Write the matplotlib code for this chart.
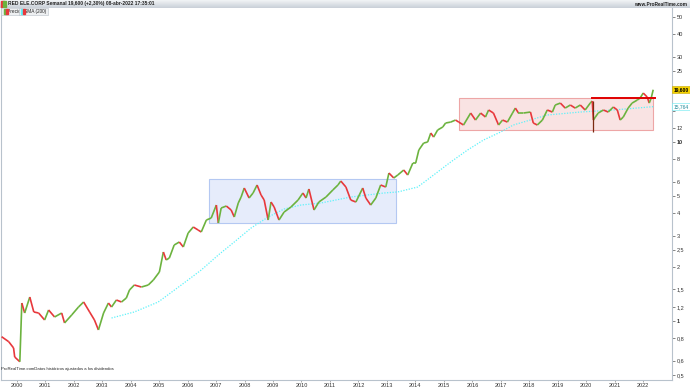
import numpy as np
import matplotlib
matplotlib.use("Agg")
import matplotlib.pyplot as plt
from matplotlib.collections import LineCollection
from matplotlib.patches import Rectangle
from matplotlib.ticker import FixedLocator, NullLocator

plt.rcParams["font.family"] = ["Liberation Sans", "DejaVu Sans"]

# ---- data (decimal year, price) ----
dates = [1999.47, 1999.72, 1999.89, 1999.93, 2000.11, 2000.18, 2000.28, 2000.46, 2000.60, 2000.77,
         2000.98, 2001.12, 2001.33, 2001.58, 2001.68, 2001.93, 2002.17, 2002.35, 2002.56, 2002.73,
         2002.87, 2003.05, 2003.22, 2003.33, 2003.50, 2003.68, 2003.85, 2003.96, 2004.13, 2004.38,
         2004.62, 2004.80, 2005.01, 2005.15, 2005.25, 2005.36, 2005.53, 2005.71, 2005.85, 2006.02,
         2006.20, 2006.37, 2006.48, 2006.66, 2006.83, 2007.01, 2007.08, 2007.18, 2007.36, 2007.53,
         2007.64, 2007.78, 2007.88, 2007.99, 2008.16, 2008.30, 2008.44, 2008.58, 2008.69, 2008.83,
         2008.93, 2009.04, 2009.21, 2009.39, 2009.63, 2009.88, 2010.05, 2010.16, 2010.26, 2010.44,
         2010.61, 2010.86, 2011.10, 2011.28, 2011.38, 2011.56, 2011.73, 2011.91, 2012.15, 2012.26,
         2012.43, 2012.61, 2012.78, 2012.96, 2013.07, 2013.24, 2013.38, 2013.59, 2013.73, 2013.91,
         2014.01, 2014.12, 2014.29, 2014.43, 2014.54, 2014.64, 2014.78, 2014.96, 2015.06, 2015.24,
         2015.41, 2015.52, 2015.69, 2015.94, 2016.11, 2016.29, 2016.46, 2016.57, 2016.74, 2016.92,
         2017.06, 2017.23, 2017.41, 2017.51, 2017.62, 2017.79, 2018.04, 2018.14, 2018.28, 2018.46,
         2018.63, 2018.81, 2018.91, 2019.09, 2019.26, 2019.44, 2019.61, 2019.79, 2019.96, 2020.14,
         2020.21, 2020.25, 2020.32, 2020.42, 2020.60, 2020.77, 2020.95, 2021.09, 2021.19, 2021.30,
         2021.47, 2021.61, 2021.79, 2021.89, 2022.00, 2022.14, 2022.21, 2022.28, 2022.35]
closes = [0.817, 0.766, 0.707, 0.629, 0.592, 1.26, 1.108, 1.361, 1.123, 1.108,
          1.013, 1.152, 1.053, 1.108, 0.975, 1.080, 1.197, 1.277, 1.123, 1.013,
          0.891, 1.108, 1.26, 1.197, 1.310, 1.277, 1.344, 1.490, 1.589, 1.548,
          1.589, 1.695, 1.878, 2.429, 2.192, 2.249, 2.658, 2.763, 2.591, 3.101,
          3.351, 3.224, 3.142, 3.666, 3.762, 4.446, 3.527, 4.279, 4.390, 4.170,
          3.811, 4.563, 4.928, 5.534, 4.866, 5.190, 5.752, 5.058, 4.743, 3.666,
          4.622, 4.334, 3.666, 4.063, 4.334, 4.743, 5.190, 4.866, 5.464, 4.170,
          4.622, 4.928, 5.394, 5.752, 6.055, 5.605, 4.743, 4.622, 5.534, 4.866,
          4.446, 4.866, 5.752, 5.605, 6.711, 6.295, 6.542, 6.976, 6.542, 7.633,
          7.633, 9.022, 9.872, 10.0, 11.23, 10.66, 11.67, 12.13, 12.77, 12.93,
          13.27, 12.93, 12.45, 14.52, 13.27, 14.52, 13.80, 15.10, 14.52, 12.45,
          13.27, 12.93, 14.52, 15.48, 14.52, 14.52, 14.71, 12.77, 12.45, 13.27,
          15.10, 14.71, 16.10, 16.51, 15.48, 16.10, 15.48, 16.10, 15.10, 16.51,
          16.95, 13.27, 13.80, 14.52, 15.10, 14.71, 15.69, 15.10, 13.27, 13.80,
          15.48, 16.51, 17.16, 17.62, 18.78, 17.84, 16.51, 17.62, 19.60]

sma_dates = [2003.33, 2004.13, 2004.97, 2005.78, 2006.48, 2007.08, 2007.64, 2008.23, 2008.83,
             2009.39, 2009.98, 2010.68, 2011.73, 2012.89, 2013.38, 2014.08, 2014.64, 2015.24,
             2015.83, 2016.39, 2016.99, 2017.44, 2018.63, 2019.79, 2020.95, 2022.35]
sma_values = [1.039, 1.123, 1.277, 1.589, 1.927, 2.338, 2.763, 3.308, 3.811,
              4.224, 4.446, 4.563, 4.928, 5.190, 5.26, 5.605, 6.542, 7.732,
              9.022, 10.26, 11.37, 12.45, 14.16, 14.71, 15.10, 15.764]

crash_wick = (2020.22, 16.95, 11.4)

blue_box = (2006.74, 2013.33, 3.51, 6.19)
red_box = (2015.52, 2022.35, 11.67, 17.54)
resist_line = (2020.21, 2022.42, 17.54)

ytick_values = [0.5, 0.6, 0.8, 1, 1.2, 1.5, 2, 2.5, 3, 4, 5, 6, 8, 10, 12, 15, 20, 25, 30, 40, 50]
ytick_labels = ["0,5", "0,6", "0,8", "1", "1,2", "1,5", "2", "2,5", "3", "4", "5", "6", "8",
                "10", "12", "15", "20", "25", "30", "40", "50"]
years = list(range(2000, 2023))

last_price = "19,600"
last_sma = "15,764"

GREEN = "#6cb33f"
RED = "#e8383c"

fig = plt.figure(figsize=(6.9, 3.88), dpi=100)
ax = fig.add_axes([0.0015, 1 - 380 / 388, 672 / 690 - 0.0015, 372 / 388])
ax.set_yscale("log")
ax.set_xlim(1999.45, 2023.01)
ax.set_ylim(0.468, 56.1)

# boxes
ax.add_patch(Rectangle((blue_box[0], blue_box[2]), blue_box[1] - blue_box[0], blue_box[3] - blue_box[2],
                       facecolor="#e6ecfb", edgecolor="#b4c8f2", lw=0.8, zorder=1))
ax.add_patch(Rectangle((red_box[0], red_box[2]), red_box[1] - red_box[0], red_box[3] - red_box[2],
                       facecolor="#f9e3e3", edgecolor="#eda6a6", lw=0.8, zorder=1))

# SMA
ax.plot(sma_dates, sma_values, color="#5ef2fa", lw=0.9, ls=(0, (1, 1.2)), zorder=2)

# price segments coloured by direction
d = np.array(dates)
c = np.array(closes)
segs = [[(d[i - 1], c[i - 1]), (d[i], c[i])] for i in range(1, len(d))]
cols = [GREEN if c[i] >= c[i - 1] else RED for i in range(1, len(d))]
ax.add_collection(LineCollection(segs, colors=cols, linewidths=1.2, zorder=3))
ax.vlines(crash_wick[0], crash_wick[2], crash_wick[1], colors="#7a2a10", lw=0.9, zorder=3)

ax.plot([resist_line[0], resist_line[1]], [resist_line[2], resist_line[2]], color="#e00000", lw=1.4, zorder=4)

# axes styling
ax.spines["top"].set_visible(False)
for s in ["left", "right", "bottom"]:
    ax.spines[s].set_color("#b8c2cc")
    ax.spines[s].set_linewidth(0.8)
ax.yaxis.tick_right()
ax.yaxis.set_major_locator(FixedLocator(ytick_values))
ax.yaxis.set_minor_locator(NullLocator())
ax.set_yticklabels(ytick_labels)
ax.tick_params(axis="y", which="major", labelsize=4.0, length=2, width=0.5, colors="#555555",
               labelcolor="#333333", pad=1.5)
for lbl in ax.get_yticklabels():
    if lbl.get_text() in ("1", "10"):
        lbl.set_fontweight("bold")
    if lbl.get_text() in ("15", "20"):
        lbl.set_visible(False)
ax.xaxis.set_major_locator(FixedLocator(years))
ax.set_xticklabels([str(y) for y in years])
ax.tick_params(axis="x", labelsize=4.0, length=1.5, width=0.5, colors="#888888",
               labelcolor="#333333", pad=1)

# badges on right
trans = ax.get_yaxis_transform()
ax.text(1.002, 19.6, last_price, transform=trans, fontsize=3.6, fontweight="bold", color="black",
        va="center", ha="left", zorder=10, clip_on=False,
        bbox=dict(boxstyle="square,pad=0.2", facecolor="#f5d200", edgecolor="#c8a800", lw=0.4))
ax.text(1.002, 15.764, last_sma, transform=trans, fontsize=3.6, color="#208a9a",
        va="center", ha="left", zorder=10, clip_on=False,
        bbox=dict(boxstyle="square,pad=0.2", facecolor="white", edgecolor="#66e8f0", lw=0.4))

# header bar
hdr = fig.add_axes([0, 1 - 8 / 388, 1, 8 / 388])
grad = np.linspace(0, 1, 50).reshape(-1, 1)
hdr.imshow(grad, aspect="auto", cmap=matplotlib.colors.LinearSegmentedColormap.from_list(
    "g", ["#f2f4f6", "#c9d0d8"]), extent=[0, 1, 0, 1])
hdr.set_axis_off()
hdr.text(0.012, 0.5, "RED ELE.CORP Semanal 19,600 (+2,30%) 08-abr-2022 17:35:01", fontsize=3.5,
         fontweight="bold", color="#222222", va="center", ha="left")
hdr.text(0.996, 0.5, "www.ProRealTime.com", fontsize=3.4, fontweight="bold", color="#222222",
         va="center", ha="right")
hdr.add_patch(Rectangle((0.002, 0.15), 0.004, 0.7, color=RED))
hdr.add_patch(Rectangle((0.005, 0.15), 0.004, 0.7, color=GREEN))

# legend boxes
fig.text(0.004, 1 - 11.5 / 388, "   Precio", fontsize=3.4, color="#222222", va="center", ha="left",
         zorder=5, bbox=dict(boxstyle="square,pad=0.3", facecolor="#eef0f2", edgecolor="#b8c0c8", lw=0.4))
fig.text(0.029, 1 - 11.5 / 388, "   SMA (200)", fontsize=3.4, color="#222222", va="center", ha="left",
         zorder=5, bbox=dict(boxstyle="square,pad=0.3", facecolor="#eef0f2", edgecolor="#b8c0c8", lw=0.4))
for x0, ca, cb in [(0.0055, GREEN, RED), (0.0305, "#5ef2fa", RED)]:
    fig.add_artist(Rectangle((x0, 1 - 14 / 388), 0.003, 5 / 388, color=ca,
                             transform=fig.transFigure, zorder=20))
    fig.add_artist(Rectangle((x0 + 0.003, 1 - 14 / 388), 0.003, 5 / 388, color=cb,
                             transform=fig.transFigure, zorder=20))

# footer note
fig.text(0.002, 1 - 369 / 388, "ProRealTime.comDatos históricos ajustados a los dividendos",
         fontsize=3.1, color="#222222", va="center", ha="left")

fig.savefig("out.png", dpi=100)
